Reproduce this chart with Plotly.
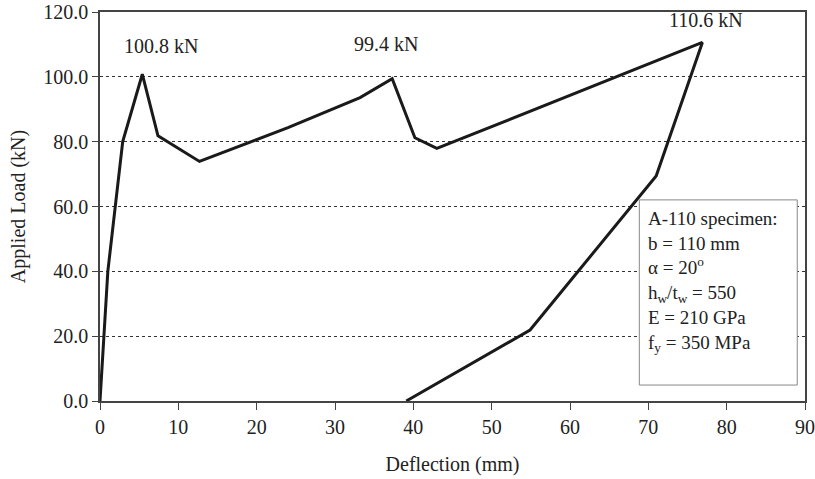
import plotly.graph_objects as go

deflection = [0.0, 1.0, 2.9, 5.4, 7.4, 12.7, 24.0, 33.2, 37.3, 40.2, 43.0, 76.9, 71.0, 54.9, 39.1]
load = [0.0, 40.0, 80.0, 100.8, 81.8, 73.9, 84.3, 93.6, 99.4, 81.2, 77.9, 110.6, 69.4, 21.9, 0.0]

peak_x = [5.4, 37.3, 76.9]
peak_y = [100.8, 99.4, 110.6]
peak_labels = ["100.8 kN", "99.4 kN", "110.6 kN"]

info_lines = [
    "A-110 specimen:",
    "b = 110 mm",
    "α = 20<sup>o</sup>",
    "h<sub>w</sub>/t<sub>w</sub> = 550",
    "E = 210 GPa",
    "f<sub>y</sub> = 350 MPa",
]

FONT = "Liberation Serif, Times New Roman, serif"

fig = go.Figure()
fig.add_trace(go.Scatter(x=deflection, y=load, mode="lines",
                         line=dict(color="#1a1a1a", width=3), showlegend=False,
                         hoverinfo="skip"))

label_dx = [2.4, -0.8, 0.4]
label_dy = [8.6, 10.8, 7.0]
for px, py, lab, dx, dy in zip(peak_x, peak_y, peak_labels, label_dx, label_dy):
    fig.add_annotation(x=px + dx, y=py + dy, text=lab, showarrow=False,
                       font=dict(family=FONT, size=20, color="#222"),
                       xanchor="center", yanchor="middle")

# info box
fig.add_shape(type="rect", xref="paper", yref="paper",
              x0=0.765, x1=0.989, y0=0.041, y1=0.517,
              line=dict(color="#888", width=1), fillcolor="white", layer="above")
fig.add_annotation(xref="paper", yref="paper", x=0.774, y=0.502,
                   text="<br>".join(info_lines), showarrow=False, align="left",
                   xanchor="left", yanchor="top",
                   font=dict(family=FONT, size=19, color="#222"))

fig.update_layout(
    width=815, height=479,
    margin=dict(l=100, r=10, t=12, b=78),
    paper_bgcolor="white", plot_bgcolor="white",
    font=dict(family=FONT, size=20, color="#222"),
    xaxis=dict(range=[0, 90], tickmode="linear", tick0=0, dtick=10,
               showgrid=False, zeroline=False, automargin=False,
               showline=True, linecolor="#444", linewidth=1.5, mirror=True,
               ticks="outside", ticklen=7, tickcolor="#444",
               title=dict(text="Deflection (mm)", font=dict(size=20), standoff=20)),
    yaxis=dict(range=[0, 120], tickmode="linear", tick0=0, dtick=20,
               tickformat=".1f", automargin=False,
               showgrid=True, gridcolor="#333", griddash="dot", gridwidth=1,
               zeroline=False,
               showline=True, linecolor="#444", linewidth=1.5, mirror=True,
               ticks="outside", ticklen=6, tickcolor="#444",
               title=dict(text="Applied Load (kN)", font=dict(size=20), standoff=12)),
)

fig.write_html("out.html", config={"displayModeBar": False},
               post_script="document.body.style.margin='0';document.body.style.overflow='hidden';")
